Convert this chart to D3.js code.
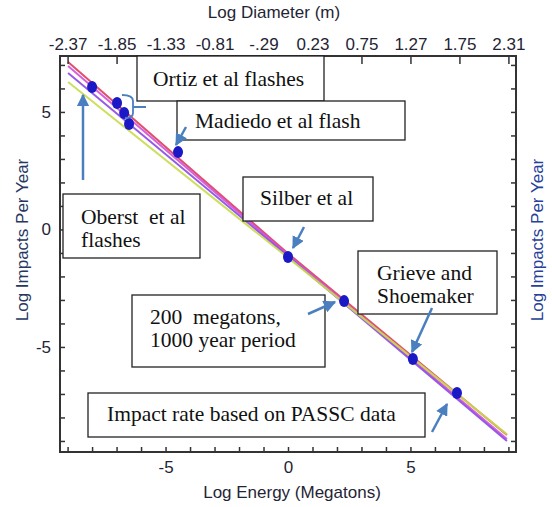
<!DOCTYPE html>
<html>
<head>
<meta charset="utf-8">
<script src="https://cdn.jsdelivr.net/npm/d3@7"></script>
<style>
  body { margin: 0; background: #fff; }
  svg { display: block; }
  .axis text { font-family: "Liberation Sans", Arial, sans-serif; font-size: 17px; fill: #1f2535; }
  .axis path, .axis line { stroke: #333; }
  .note text { font-family: "Liberation Serif", "Times New Roman", serif; font-size: 21.5px; fill: #111; }
</style>
</head>
<body>
<svg id="chart" width="552" height="507"></svg>
<script>
// measured points (log energy in megatons, log impacts per year)
var pointEnergy = [-8.0, -6.98, -6.69, -6.49, -4.49, 0, 2.29, 5.1, 6.9]
var pointRate   = [6.06, 5.38, 4.95, 4.49, 3.29, -1.17, -3.05, -5.51, -6.96]

// fitted power laws, read at energy -9, 0 and +9
var fitNames  = ["red", "magenta", "violet", "yellow"]
var fitColors = ["#dd3d5c", "#d24fd6", "#8b49e3", "#c9da4e"]
var fitEnergy = [-8.98, 0, 8.94]
var fitRed     = [7.12, -1.02, -8.75]
var fitMagenta = [6.95, -1.08, -8.92]
var fitViolet  = [6.66, -1.14, -9.0]
var fitYellow  = [6.27, -1.2, -8.72]

// axis ticks
var bottomTicks = d3.range(-9, 10)
var bottomLabels = [-5, 0, 5]
var leftTicks = d3.range(-9, 8)
var leftLabels = [-5, 0, 5]
var topTicks = [-9, -7, -5, -3, -1, 1, 3, 5, 7, 9]
var diameterLabels = ["-2.37", "-1.85", "-1.33", "-0.81", "-.29", "0.23", "0.75", "1.27", "1.75", "2.31"]

var svg = d3.select("#chart")

var plotLeft = 60, plotRight = 516, plotTop = 56, plotBottom = 452

var x = d3.scaleLinear().domain([-9.31, 9.31]).range([plotLeft, plotRight])
var y = d3.scaleLinear().domain([-9.47, 7.38]).range([plotBottom, plotTop])

// fit lines
var lineGen = d3.line()
    .x(function(d){ return x(d[0]) })
    .y(function(d){ return y(d[1]) })

var fits = [fitRed, fitMagenta, fitViolet, fitYellow].map(function(vals){
    return fitEnergy.map(function(e, j){ return [e, vals[j]] })
})

svg.append("g").selectAll("path")
    .data(fits)
  .enter().append("path")
    .attr("d", lineGen)
    .attr("fill", "none")
    .attr("stroke", function(d, i){ return fitColors[i] })
    .attr("stroke-width", 2)
    .attr("opacity", 0.9)

// data points
svg.append("g").selectAll("ellipse")
    .data(pointEnergy)
  .enter().append("ellipse")
    .attr("cx", function(d){ return x(d) })
    .attr("cy", function(d, i){ return y(pointRate[i]) })
    .attr("rx", 5)
    .attr("ry", 6)
    .attr("fill", "#1b18c6")

// axes, ticks pointing inward
svg.append("g").attr("class", "axis")
    .attr("transform", "translate(0," + plotBottom + ")")
    .call(d3.axisBottom(x).tickValues(bottomTicks).tickSize(-5).tickPadding(9)
        .tickFormat(function(d){ return bottomLabels.indexOf(d) >= 0 ? d : "" }))
svg.append("g").attr("class", "axis")
    .attr("transform", "translate(0," + plotTop + ")")
    .call(d3.axisTop(x).tickValues(topTicks).tickSize(-8).tickPadding(6)
        .tickFormat(function(d, i){ return diameterLabels[i] }))
svg.append("g").attr("class", "axis")
    .attr("transform", "translate(" + plotLeft + ",0)")
    .call(d3.axisLeft(y).tickValues(leftTicks).tickSize(-5).tickPadding(9)
        .tickFormat(function(d){ return leftLabels.indexOf(d) >= 0 ? d : "" }))
svg.append("g").attr("class", "axis")
    .attr("transform", "translate(" + plotRight + ",0)")
    .call(d3.axisRight(y).tickValues(leftTicks).tickSize(-5).tickFormat(""))

svg.selectAll(".axis .domain").remove()
svg.selectAll(".axis line").attr("stroke-width", 1.5)
svg.selectAll(".axis text").text(function(){ return this.textContent.replace("−", "-") })

svg.append("rect")
    .attr("x", plotLeft).attr("y", plotTop)
    .attr("width", plotRight - plotLeft).attr("height", plotBottom - plotTop)
    .attr("fill", "none").attr("stroke", "#333").attr("stroke-width", 2)

// axis titles
var titleFont = '"Liberation Sans", Arial, sans-serif'
svg.append("text").attr("x", 274).attr("y", 18).attr("text-anchor", "middle")
    .style("font-family", titleFont).style("font-size", "17px").attr("fill", "#1f2535")
    .text("Log Diameter (m)")
svg.append("text").attr("x", 292).attr("y", 498).attr("text-anchor", "middle")
    .style("font-family", titleFont).style("font-size", "17px").attr("fill", "#1f2535")
    .text("Log Energy (Megatons)")
svg.append("text").attr("transform", "translate(28,240) rotate(-90)").attr("text-anchor", "middle")
    .style("font-family", titleFont).style("font-size", "17px").attr("fill", "#27375f")
    .text("Log Impacts Per Year")
svg.append("text").attr("transform", "translate(543,240) rotate(-90)").attr("text-anchor", "middle")
    .style("font-family", titleFont).style("font-size", "17px").attr("fill", "#27409a")
    .text("Log Impacts Per Year")

// annotation boxes (pixel layout)
var notes = [
    {x0: 137, y0: 56, x1: 324, y1: 101, tx: 153, lines: ["Ortiz et al flashes"], ty: 86},
    {x0: 177, y0: 101, x1: 405, y1: 140, tx: 195, lines: ["Madiedo et al flash"], ty: 128},
    {x0: 63, y0: 194, x1: 200, y1: 258, tx: 81, lines: ["Oberst  et al", "flashes"], ty: 224},
    {x0: 243, y0: 177, x1: 373, y1: 221, tx: 260, lines: ["Silber et al"], ty: 205},
    {x0: 358, y0: 251, x1: 497, y1: 314, tx: 377, lines: ["Grieve and", "Shoemaker"], ty: 280},
    {x0: 132, y0: 295, x1: 325, y1: 367, tx: 150, lines: ["200  megatons,", "1000 year period"], ty: 324},
    {x0: 88, y0: 393, x1: 425, y1: 437, tx: 107, lines: ["Impact rate based on PASSC data"], ty: 421}
]

var ng = svg.append("g").attr("class", "note")
notes.forEach(function(n){
    ng.append("rect")
        .attr("x", n.x0).attr("y", n.y0)
        .attr("width", n.x1 - n.x0).attr("height", n.y1 - n.y0)
        .attr("fill", "#fff").attr("stroke", "#222").attr("stroke-width", 1.3)
    n.lines.forEach(function(t, i){
        ng.append("text").attr("x", n.tx).attr("y", n.ty + i * 23)
            .attr("xml:space", "preserve").style("white-space", "pre").text(t)
    })
})

// arrows
var arrowColor = "#4a7fc0"
svg.append("defs").append("marker")
    .attr("id", "head").attr("viewBox", "0 0 10 10")
    .attr("refX", 9).attr("refY", 5)
    .attr("markerWidth", 5).attr("markerHeight", 5)
    .attr("markerUnits", "strokeWidth")
    .attr("orient", "auto")
  .append("path").attr("d", "M0,0 L10,5 L0,10 z").attr("fill", arrowColor)

var arrows = [
    [83, 180, 83, 95],
    [186, 127, 176, 145],
    [304, 227, 293, 248],
    [308, 314, 335, 302],
    [432, 308, 412, 352],
    [432, 432, 447, 404]
]
svg.append("g").selectAll("line")
    .data(arrows)
  .enter().append("line")
    .attr("x1", function(d){ return d[0] }).attr("y1", function(d){ return d[1] })
    .attr("x2", function(d){ return d[2] }).attr("y2", function(d){ return d[3] })
    .attr("stroke", arrowColor).attr("stroke-width", 2.5)
    .attr("marker-end", "url(#head)")

// brace for the Ortiz flashes
svg.append("path")
    .attr("d", "M122,95 Q133,95 133,101 L133,113 Q133,118 125,118 M133,107 L146,107")
    .attr("fill", "none").attr("stroke", arrowColor).attr("stroke-width", 1.8)
</script>
</body>
</html>
